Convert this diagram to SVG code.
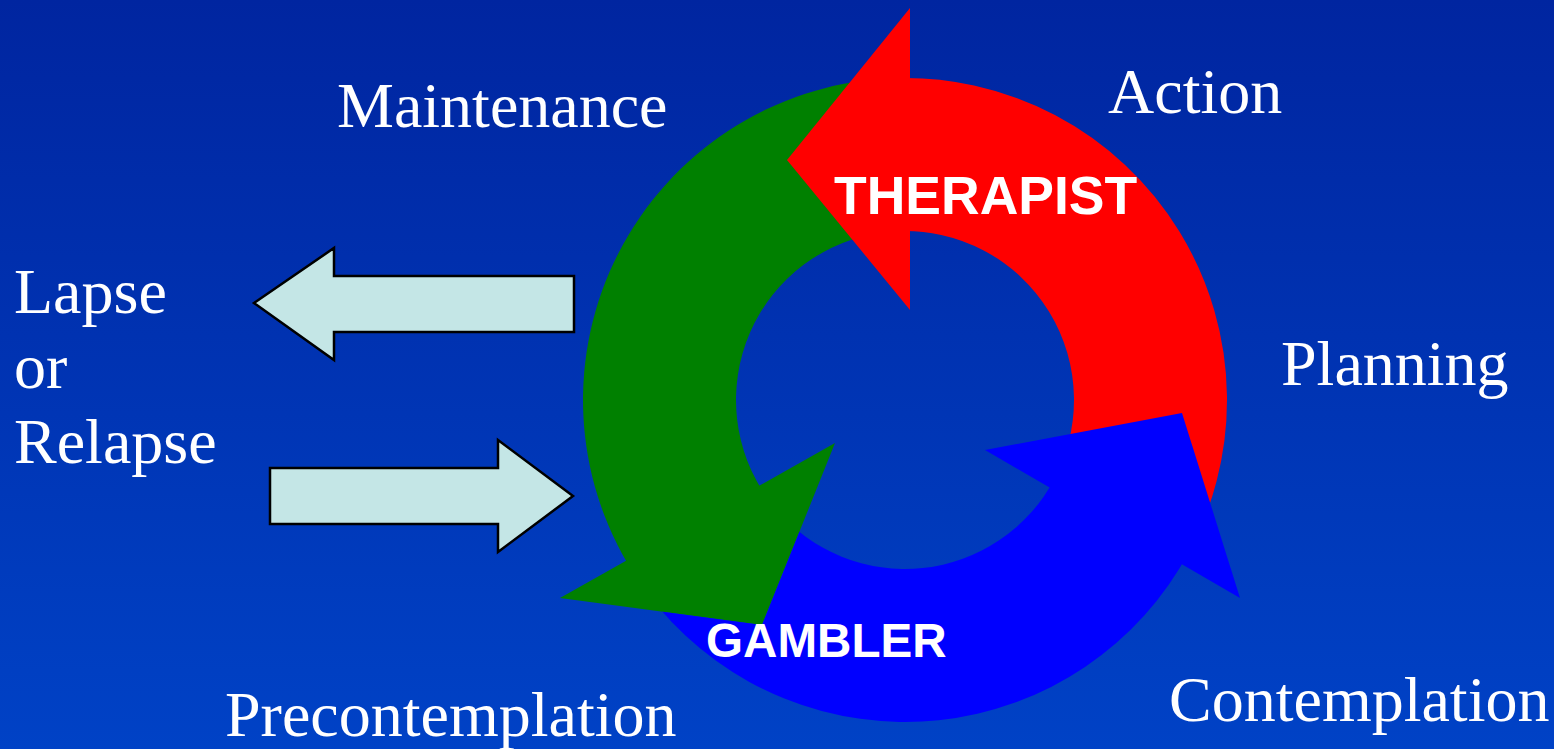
<svg xmlns="http://www.w3.org/2000/svg" width="1554" height="749" viewBox="0 0 1554 749">
  <defs>
    <linearGradient id="bg" x1="0" y1="0" x2="0" y2="1">
      <stop offset="0" stop-color="#0025A0"/>
      <stop offset="1" stop-color="#0042C6"/>
    </linearGradient>
    <clipPath id="notGreenHead">
      <path clip-rule="evenodd" d="M0 0H1554V749H0Z M835 443 L560 598 L762 625 Z"/>
    </clipPath>
  </defs>
  <style>
    .stage { font-family: "Liberation Serif", "Times New Roman", serif; font-size: 64px; fill: #FFFFFF; }
    .role { font-family: "Liberation Sans", Arial, sans-serif; font-weight: bold; fill: #FFFFFF; }
    .side { fill: #C4E6E6; stroke: #000000; stroke-width: 2.5; stroke-linejoin: miter; }
  </style>
  <rect x="0" y="0" width="1554" height="749" fill="url(#bg)"/>

  <g id="green-arrow" fill="#008000">
    <path d="M644.5 589.27 A322 322 0 0 1 865.76 80.4 L884.4 232.26 A169 169 0 0 0 768.28 499.34 Z"/>
    <polygon points="835,443 560,598 762,625"/>
  </g>

  <g id="red-arrow" fill="#FF0000">
    <path d="M888.15 78.44 A322 322 0 0 1 1183.86 561 L1051.36 484.5 A169 169 0 0 0 896.15 231.23 Z"/>
    <polygon points="910,8 910,310 787,160"/>
  </g>

  <g id="blue-arrow" fill="#0000FF">
    <path clip-path="url(#notGreenHead)" d="M1189.3 551.17 A322 322 0 0 1 658.33 606.98 L775.54 508.63 A169 169 0 0 0 1054.22 479.34 Z"/>
    <polygon points="985,450 1240,598 1182,413"/>
  </g>

  <g id="therapist-label">
    <text class="role" x="834" y="214" font-size="53.5">THERAPIST</text>
  </g>
  <g id="gambler-label">
    <text class="role" x="706" y="657" font-size="47.6">GAMBLER</text>
  </g>

  <g id="connectors">
    <polygon class="side" points="254,303 334,248 334,276 574,276 574,332 334,332 334,360"/>
    <polygon class="side" points="270,468 498,468 498,440 573,496 498,552 498,524 270,524"/>
  </g>

  <g id="maintenance"><text class="stage" x="337" y="127">Maintenance</text></g>
  <g id="action"><text class="stage" x="1108" y="113">Action</text></g>
  <g id="planning"><text class="stage" x="1281" y="385">Planning</text></g>
  <g id="contemplation"><text class="stage" x="1169" y="721">Contemplation</text></g>
  <g id="precontemplation"><text class="stage" x="225" y="736">Precontemplation</text></g>
  <g id="lapse-relapse">
    <text class="stage" x="14" y="313">Lapse</text>
    <text class="stage" x="14" y="388">or</text>
    <text class="stage" x="14" y="463">Relapse</text>
  </g>
</svg>
